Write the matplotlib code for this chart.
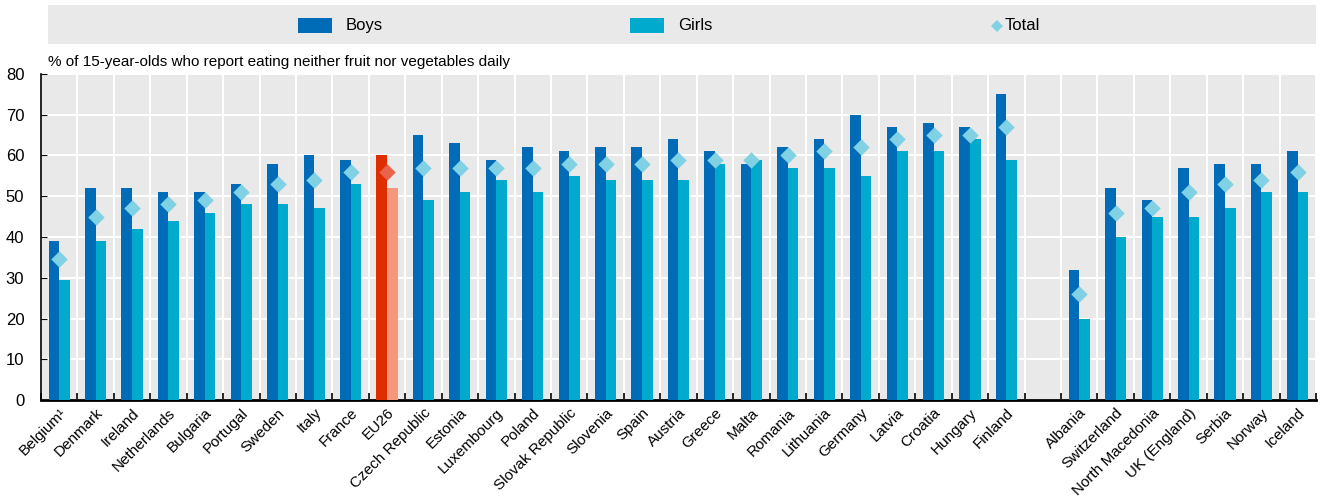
import numpy as np
import matplotlib
matplotlib.use("Agg")
import matplotlib.pyplot as plt
from matplotlib.patches import Rectangle
from matplotlib.lines import Line2D

plt.rcParams["font.family"] = ["Liberation Sans", "DejaVu Sans"]

# ── data ──
countries = [
	"Belgium¹", "Denmark", "Ireland", "Netherlands", "Bulgaria", "Portugal", "Sweden",
	"Italy", "France", "EU26", "Czech Republic", "Estonia", "Luxembourg", "Poland",
	"Slovak Republic", "Slovenia", "Spain", "Austria", "Greece", "Malta", "Romania",
	"Lithuania", "Germany", "Latvia", "Croatia", "Hungary", "Finland",
	"",
	"Albania", "Switzerland", "North Macedonia", "UK (England)", "Serbia", "Norway", "Iceland",
]
boys = [39, 52, 52, 51, 51, 53, 58, 60, 59, 60, 65, 63, 59, 62, 61, 62, 62, 64, 61, 58, 62,
	64, 70, 67, 68, 67, 75, np.nan, 32, 52, 49, 57, 58, 58, 61]
girls = [29.5, 39, 42, 44, 46, 48, 48, 47, 53, 52, 49, 51, 54, 51, 55, 54, 54, 54, 58, 59, 57,
	57, 55, 61, 61, 64, 59, np.nan, 20, 40, 45, 45, 47, 51, 51]
total = [34.5, 45, 47, 48, 49, 51, 53, 54, 56, 56, 57, 57, 57, 57, 58, 58, 58, 59, 59, 59, 60,
	61, 62, 64, 65, 65, 67, np.nan, 26, 46, 47, 51, 53, 54, 56]
highlight = "EU26"

C_BOYS, C_GIRLS, C_TOTAL = "#006BB6", "#00AACC", "#7FD1E3"
H_BOYS, H_GIRLS, H_TOTAL = "#DE2E00", "#F4977A", "#E8624C"

x = np.arange(len(countries))
w = 0.29
hi = np.array([c == highlight for c in countries])
tot = np.array(total)

fig = plt.figure(figsize=(13.2, 4.99), dpi=100)
ax = fig.add_axes([0.031, 0.198, 0.966, 0.654])
ax.set_facecolor("#E9E9E9")

ax.bar(x - w / 2, boys, w, color=np.where(hi, H_BOYS, C_BOYS), zorder=3)
ax.bar(x + w / 2, girls, w, color=np.where(hi, H_GIRLS, C_GIRLS), zorder=3)
ax.scatter(x[~hi], tot[~hi], marker="D", s=70, color=C_TOTAL, zorder=4, linewidths=0)
ax.scatter(x[hi], tot[hi], marker="D", s=70, color=H_TOTAL, zorder=4, linewidths=0)

ax.set_xlim(-0.5, len(countries) - 0.5)
ax.set_ylim(0, 80)
ax.set_yticks(range(0, 81, 10))
ax.set_xticks(x)
ax.set_xticklabels(countries, rotation=45, ha="right", rotation_mode="anchor", fontsize=11)
ax.set_xticks(np.arange(-0.5, len(countries), 1), minor=True)
ax.tick_params(axis="x", which="major", length=0, pad=4)
ax.tick_params(axis="x", which="minor", direction="in", length=5, width=1.2, color="black")
ax.tick_params(axis="y", direction="in", length=4, labelsize=12, pad=12)
ax.grid(axis="y", color="white", linewidth=1.5, zorder=0)
ax.grid(axis="x", which="minor", color="white", linewidth=1.5, zorder=0)
ax.set_axisbelow(True)
for s in ("top", "right"):
	ax.spines[s].set_visible(False)
ax.spines["left"].set_linewidth(1.2)
ax.spines["bottom"].set_linewidth(2)

fig.text(0.036, 0.862, "% of 15-year-olds who report eating neither fruit nor vegetables daily",
	fontsize=11, va="bottom", ha="left")

# ── legend band (figure pixel coords → fractions) ──
W, H = 1320, 499
px = lambda v: v / W
py = lambda v: 1 - v / H
fig.add_artist(Rectangle((px(48), py(44)), px(1316) - px(48), py(5) - py(44),
	transform=fig.transFigure, facecolor="#E9E9E9", edgecolor="none", zorder=0))
for x0, col, lab in [(298, C_BOYS, "Boys"), (630, C_GIRLS, "Girls")]:
	fig.add_artist(Rectangle((px(x0), py(33)), px(34), py(18) - py(33),
		transform=fig.transFigure, facecolor=col, edgecolor="none"))
	fig.text(px(x0 + 48), py(25.5), lab, fontsize=12, va="center", ha="left")
fig.add_artist(Line2D([px(997)], [py(25.5)], marker="D", markersize=6.5, color=C_TOTAL,
	linestyle="none", markeredgewidth=0, transform=fig.transFigure))
fig.text(px(1005), py(25.5), "Total", fontsize=12, va="center", ha="left")

fig.savefig("out.png", dpi=100)
